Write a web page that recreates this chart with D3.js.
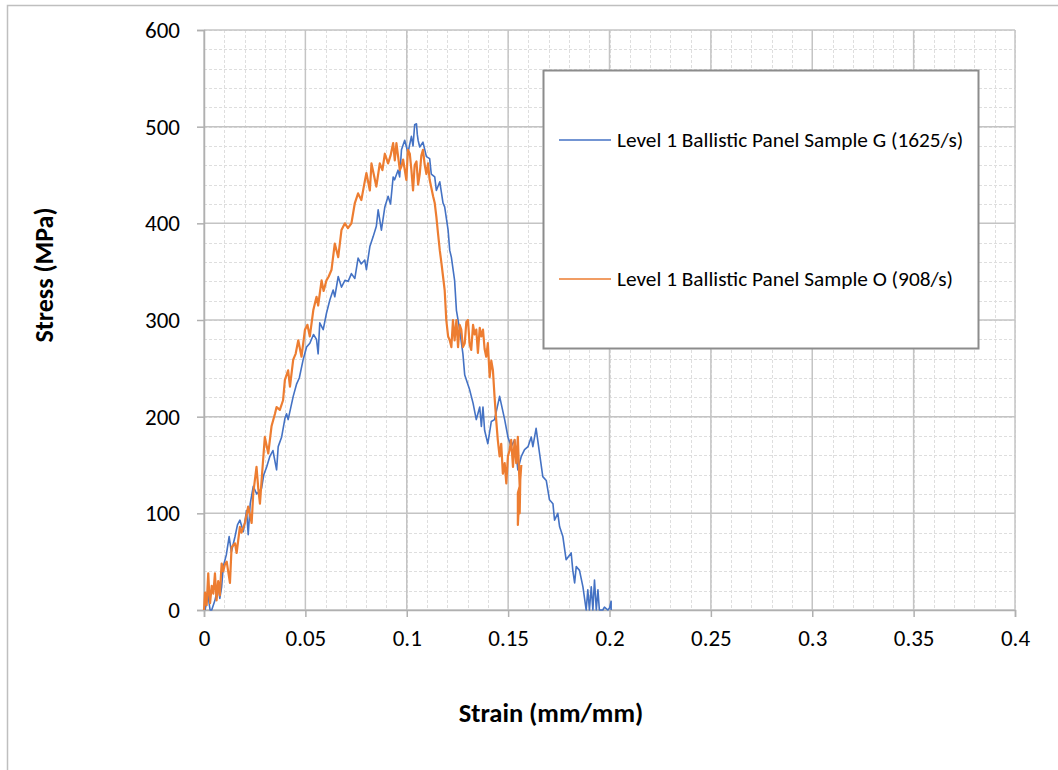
<!DOCTYPE html>
<html>
<head>
<meta charset="utf-8">
<script src="https://cdn.jsdelivr.net/npm/d3@7"></script>
<style>
  body { margin: 0; background: #fff; }
  text { font-family: Calibri, Carlito, Lato, sans-serif; fill: #000; }
</style>
</head>
<body>
<div id="chart"></div>
<script>
// tick labels
var xTicks = [0, 0.05, 0.1, 0.15, 0.2, 0.25, 0.3, 0.35, 0.4];
var yTicks = [0, 100, 200, 300, 400, 500, 600];

var seriesNames = ["Level 1 Ballistic Panel Sample G (1625/s)", "Level 1 Ballistic Panel Sample O (908/s)"];
var seriesColors = ["#4472C4", "#ED7D31"];

// Sample G (1625/s): strain, stress
var gStrain = [0.0005, 0.002, 0.003, 0.0038, 0.0054, 0.007, 0.0078, 0.0087, 0.0095, 0.011, 0.0124, 0.0135, 0.0153, 0.0165, 0.0177, 0.0194, 0.021, 0.0218, 0.0228, 0.0243, 0.026, 0.0284, 0.0295, 0.0309, 0.0325, 0.034, 0.0358, 0.0366, 0.0383, 0.0399, 0.0407, 0.0415, 0.044, 0.0457, 0.047, 0.0489, 0.0506, 0.0522, 0.054, 0.0555, 0.0563, 0.0571, 0.0588, 0.0604, 0.0621, 0.0637, 0.0645, 0.0662, 0.0678, 0.0695, 0.0711, 0.0727, 0.0744, 0.076, 0.0775, 0.0793, 0.0801, 0.0818, 0.0834, 0.085, 0.0859, 0.0875, 0.0892, 0.0908, 0.092, 0.0933, 0.094, 0.0957, 0.0965, 0.0974, 0.099, 0.1006, 0.1023, 0.1031, 0.1039, 0.1048, 0.1052, 0.1056, 0.1064, 0.108, 0.1097, 0.1113, 0.1121, 0.1138, 0.1146, 0.1163, 0.1179, 0.1187, 0.1204, 0.1212, 0.122, 0.1236, 0.1245, 0.1261, 0.1277, 0.1286, 0.131, 0.1327, 0.1343, 0.136, 0.1368, 0.1376, 0.1384, 0.14, 0.1417, 0.1433, 0.1458, 0.1483, 0.1499, 0.1515, 0.1532, 0.1548, 0.1565, 0.1581, 0.1598, 0.1614, 0.1622, 0.1638, 0.1655, 0.1671, 0.1688, 0.1704, 0.1721, 0.1729, 0.1745, 0.1754, 0.177, 0.1786, 0.1811, 0.1819, 0.1828, 0.1836, 0.1852, 0.1869, 0.1885, 0.1893, 0.1901, 0.191, 0.1918, 0.1926, 0.1935, 0.1943, 0.195, 0.1967, 0.1975, 0.1992, 0.2, 0.2008, 0.2008];
var gStress = [0, 15, 0, 0, 10, 25, 12, 24, 45, 57, 76, 60, 76, 88, 93, 81, 103, 78, 110, 128, 120, 126, 140, 148, 159, 165, 145, 169, 179, 198, 203, 197, 221, 234, 240, 259, 272, 276, 285, 280, 265, 297, 290, 307, 321, 331, 324, 345, 334, 341, 340, 348, 343, 364, 358, 362, 352, 376, 386, 397, 414, 393, 417, 428, 420, 448, 445, 455, 448, 476, 486, 473, 490, 480, 502, 503, 492, 486, 479, 484, 469, 467, 451, 448, 434, 443, 421, 417, 393, 372, 365, 341, 310, 290, 265, 243, 228, 214, 197, 210, 190, 210, 186, 172, 195, 197, 221, 197, 179, 169, 176, 145, 159, 166, 169, 179, 169, 188, 162, 138, 134, 114, 110, 93, 100, 86, 76, 52, 59, 41, 28, 45, 41, 24, 0, 21, 0, 24, 0, 31, 0, 21, 0, 0, 3, 0, 2, 9, 0];

// Sample O (908/s): strain, stress
var oStrain = [0, 0.0005, 0.0013, 0.0021, 0.0025, 0.003, 0.0038, 0.0046, 0.0054, 0.0062, 0.007, 0.0078, 0.0087, 0.0095, 0.0103, 0.0112, 0.0128, 0.0136, 0.0153, 0.0161, 0.0177, 0.0185, 0.0202, 0.0218, 0.0235, 0.0243, 0.0259, 0.0268, 0.0276, 0.0284, 0.03, 0.0317, 0.0333, 0.035, 0.0358, 0.0374, 0.039, 0.0399, 0.0415, 0.0424, 0.044, 0.0452, 0.0465, 0.0481, 0.0498, 0.051, 0.0522, 0.0539, 0.0555, 0.0563, 0.058, 0.059, 0.0604, 0.0615, 0.0629, 0.0645, 0.0662, 0.0678, 0.0695, 0.071, 0.0727, 0.0744, 0.076, 0.0776, 0.079, 0.0801, 0.0818, 0.0826, 0.0838, 0.085, 0.0867, 0.088, 0.0892, 0.0908, 0.092, 0.0933, 0.0941, 0.0949, 0.0966, 0.0974, 0.0982, 0.0998, 0.1006, 0.1015, 0.1023, 0.1031, 0.1039, 0.1048, 0.1056, 0.1064, 0.1072, 0.108, 0.1089, 0.1097, 0.1105, 0.1113, 0.113, 0.1138, 0.1146, 0.1154, 0.1163, 0.1171, 0.1179, 0.1187, 0.1195, 0.1204, 0.1212, 0.122, 0.1228, 0.1236, 0.1245, 0.1253, 0.1261, 0.1269, 0.1277, 0.1286, 0.1294, 0.1302, 0.131, 0.1318, 0.1327, 0.1335, 0.1343, 0.1351, 0.136, 0.1368, 0.1376, 0.1384, 0.1392, 0.14, 0.1409, 0.1417, 0.1425, 0.1433, 0.1441, 0.1449, 0.1458, 0.1466, 0.1474, 0.1483, 0.1491, 0.1499, 0.1507, 0.1515, 0.1524, 0.1532, 0.154, 0.1548, 0.1553, 0.1557, 0.1548, 0.1548, 0.1553, 0.1557, 0.156, 0.1565];
var oStress = [0, 18, 5, 38, 20, 7, 25, 17, 38, 10, 30, 15, 48, 40, 47, 50, 28, 65, 69, 59, 86, 80, 90, 107, 90, 121, 148, 125, 110, 134, 179, 162, 190, 203, 210, 207, 217, 238, 248, 231, 259, 265, 279, 262, 290, 295, 283, 310, 324, 315, 341, 330, 341, 345, 352, 379, 365, 393, 400, 395, 400, 421, 431, 424, 440, 452, 434, 462, 450, 438, 462, 455, 472, 462, 470, 483, 465, 483, 455, 459, 466, 445, 476, 472, 455, 434, 460, 464, 440, 451, 470, 476, 460, 451, 462, 445, 428, 421, 407, 390, 372, 359, 345, 331, 300, 283, 279, 272, 300, 279, 300, 272, 295, 290, 272, 276, 298, 300, 275, 269, 295, 285, 290, 266, 292, 283, 290, 270, 262, 276, 241, 258, 248, 221, 197, 176, 159, 172, 141, 152, 131, 159, 165, 176, 148, 176, 152, 179, 148, 128, 121, 88, 110, 100, 135, 150];

var W = 1058, H = 770;
var margin = {top: 30, right: 42, bottom: 160, left: 204},
    width = 1015 - margin.left,
    height = 610 - margin.top;

var svg = d3.select("#chart")
  .append("svg")
    .attr("width", W)
    .attr("height", H);

// chart frame
svg.append("rect")
    .attr("x", 7.5).attr("y", 5.5)
    .attr("width", W + 10).attr("height", H + 10)
    .attr("fill", "#fff")
    .attr("stroke", "#bfbfbf")
    .attr("stroke-width", 1.5);

var g = svg.append("g")
    .attr("transform", "translate(" + margin.left + "," + margin.top + ")");

var x = d3.scaleLinear().domain([0, 0.4]).range([0, width]);
var y = d3.scaleLinear().domain([0, 600]).range([height, 0]);

// minor grid
var xMinor = d3.range(0, 41).map(function(i) { return i / 100; });
var yMinor = d3.range(0, 31).map(function(i) { return i * 20; });
g.append("g").selectAll("line")
  .data(xMinor)
  .enter().append("line")
    .attr("x1", function(d) { return Math.round(x(d)) + 0.5; })
    .attr("x2", function(d) { return Math.round(x(d)) + 0.5; })
    .attr("y1", 0).attr("y2", height)
    .attr("stroke", "#dedede")
    .attr("stroke-dasharray", "3,2");
g.append("g").selectAll("line")
  .data(yMinor)
  .enter().append("line")
    .attr("y1", function(d) { return Math.round(y(d)) + 0.5; })
    .attr("y2", function(d) { return Math.round(y(d)) + 0.5; })
    .attr("x1", 0).attr("x2", width)
    .attr("stroke", "#dedede")
    .attr("stroke-dasharray", "3,2");

// major grid
g.append("g").selectAll("line")
  .data(xTicks)
  .enter().append("line")
    .attr("x1", function(d) { return x(d); })
    .attr("x2", function(d) { return x(d); })
    .attr("y1", 0).attr("y2", height)
    .attr("stroke", "#c4c4c4")
    .attr("stroke-width", 1.5);
g.append("g").selectAll("line")
  .data(yTicks)
  .enter().append("line")
    .attr("y1", function(d) { return y(d); })
    .attr("y2", function(d) { return y(d); })
    .attr("x1", 0).attr("x2", width)
    .attr("stroke", "#c4c4c4")
    .attr("stroke-width", 1.5);

// axes
var xAxis = g.append("g")
    .attr("transform", "translate(0," + height + ")")
    .call(d3.axisBottom(x).tickValues(xTicks).tickSize(7).tickPadding(13)
      .tickFormat(function(d) { return d3.format("")(+d.toFixed(2)); }));
var yAxis = g.append("g")
    .call(d3.axisLeft(y).tickValues(yTicks).tickSize(7).tickPadding(17));

[xAxis, yAxis].forEach(function(a) {
  a.select(".domain").attr("stroke", "#b0b0b0").attr("stroke-width", 1.5);
  a.selectAll(".tick line").attr("stroke", "#b0b0b0").attr("stroke-width", 1.5);
  a.selectAll(".tick text")
    .style("font-family", "Calibri, Carlito, Lato, sans-serif")
    .style("font-size", "23px")
    .attr("fill", "#000");
});

// series
var line = d3.line()
    .x(function(d) { return x(d[0]); })
    .y(function(d) { return y(d[1]); });

var gData = gStrain.map(function(s, i) { return [s, gStress[i]]; });
var oData = oStrain.map(function(s, i) { return [s, oStress[i]]; });

g.append("path")
    .datum(gData)
    .attr("fill", "none")
    .attr("stroke", seriesColors[0])
    .attr("stroke-width", 1.6)
    .attr("stroke-linejoin", "round")
    .attr("d", line);

g.append("path")
    .datum(oData)
    .attr("fill", "none")
    .attr("stroke", seriesColors[1])
    .attr("stroke-width", 2.2)
    .attr("stroke-linejoin", "round")
    .attr("d", line);

// legend
var legend = svg.append("g");
legend.append("rect")
    .attr("x", 543.5).attr("y", 70.5)
    .attr("width", 435).attr("height", 278)
    .attr("fill", "#fff")
    .attr("stroke", "#8c8c8c")
    .attr("stroke-width", 2);

var legendY = [140, 279];
seriesNames.forEach(function(name, i) {
  legend.append("line")
    .attr("x1", 559).attr("x2", 611)
    .attr("y1", legendY[i]).attr("y2", legendY[i])
    .attr("stroke", seriesColors[i])
    .attr("stroke-width", 1.6);
  legend.append("text")
    .attr("x", 617)
    .attr("y", legendY[i])
    .attr("dy", "0.35em")
    .style("font-size", "21.3px")
    .text(name);
});

// axis titles
svg.append("text")
    .attr("x", 551)
    .attr("y", 722)
    .attr("text-anchor", "middle")
    .style("font-size", "26.5px")
    .style("font-weight", "bold")
    .text("Strain (mm/mm)");

svg.append("text")
    .attr("transform", "translate(53,275) rotate(-90)")
    .attr("text-anchor", "middle")
    .style("font-size", "26px")
    .style("font-weight", "bold")
    .text("Stress (MPa)");
</script>
</body>
</html>
